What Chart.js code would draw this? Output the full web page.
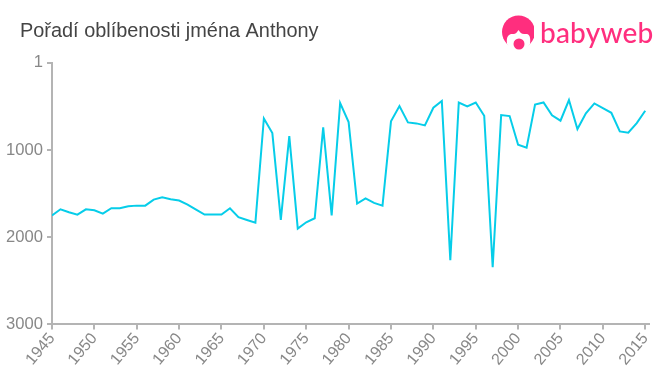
<!DOCTYPE html>
<html>
<head>
<meta charset="utf-8">
<script src="https://cdn.jsdelivr.net/npm/chart.js@4"></script>
<style>
  html, body { margin: 0; padding: 0; background: #fff; }
  #wrap { position: relative; width: 660px; height: 375px; overflow: hidden; }
  #logo { position: absolute; left: 500px; top: 14px; width: 34px; height: 36px; }
  #brand { position: absolute; left: 540px; top: 14px; font: 500 28px/36px Lato, sans-serif; color: #ff2e7e; letter-spacing: 0.2px; }
</style>
</head>
<body>
<div id="wrap">
  <canvas id="chart" width="660" height="375"></canvas>
  <svg id="logo" viewBox="0 0 34 36">
    <circle cx="18.5" cy="18" r="16.5" fill="#ff2e7e"/>
    <path d="M7 30 C6 22 9 19.5 13 20 C15 20.5 17 18.5 18.5 16 C20 18.5 22 20.5 25 20 C29 19.5 31 22 30 30 L24 37 L12 37 Z" fill="#fff"/>
    <circle cx="19" cy="30" r="5.5" fill="#ff2e7e"/>
  </svg>
  <div id="brand">babyweb</div>
</div>
<script>
const years = [1945,1946,1947,1948,1949,1950,1951,1952,1953,1954,1955,1956,1957,1958,1959,1960,1961,1962,1963,1964,1965,1966,1967,1968,1969,1970,1971,1972,1973,1974,1975,1976,1977,1978,1979,1980,1981,1982,1983,1984,1985,1986,1987,1988,1989,1990,1991,1992,1993,1994,1995,1996,1997,1998,1999,2000,2001,2002,2003,2004,2005,2006,2007,2008,2009,2010,2011,2012,2013,2014,2015];
const ranks = [1752,1680,1714,1741,1680,1691,1729,1668,1668,1645,1638,1638,1569,1543,1565,1580,1626,1684,1741,1741,1741,1668,1771,1802,1833,638,806,1802,840,1901,1829,1783,741,1749,462,680,1615,1554,1607,1638,672,496,684,695,718,515,439,2265,455,500,455,607,2345,600,611,939,974,478,455,603,664,427,760,580,466,519,573,787,802,691,550];
const yTicks = [1, 1000, 2000, 3000];

// the title starts 20px in, the y labels need the full width
const titleInset = {
  id: "titleInset",
  afterLayout(chart) {
    chart.titleBlock.left = 20;
  },
};

new Chart(document.getElementById("chart"), {
  type: "line",
  data: {
    datasets: [{
      data: years.map((y, i) => ({ x: y, y: ranks[i] })),
      borderColor: "#06cde9",
      borderWidth: 2,
      pointRadius: 0,
      tension: 0,
    }],
  },
  plugins: [titleInset],
  options: {
    responsive: false,
    animation: false,
    layout: { padding: { left: 0, right: 10, top: 0, bottom: 6 } },
    plugins: {
      legend: { display: false },
      tooltip: { enabled: false },
      title: {
        display: true,
        text: "Pořadí oblíbenosti jména Anthony",
        align: "start",
        color: "#444",
        font: { family: "Liberation Sans", size: 19.9, weight: "normal" },
        padding: { top: 20, bottom: 19 },
      },
    },
    scales: {
      x: {
        type: "linear",
        min: 1945,
        max: 2015.47,
        border: { color: "#b4b4b4", width: 2 },
        grid: { drawOnChartArea: false, color: "#b4b4b4", tickLength: 5, lineWidth: 2 },
        ticks: {
          stepSize: 5,
          includeBounds: false,
          color: "#888",
          font: { family: "Liberation Sans", size: 16 },
          maxRotation: 50,
          minRotation: 50,
          padding: 0,
          callback: (v) => String(v),
        },
      },
      y: {
        reverse: true,
        min: 1,
        max: 3000,
        afterBuildTicks: (axis) => { axis.ticks = yTicks.map((v) => ({ value: v })); },
        afterFit: (axis) => { axis.width = 52; },
        border: { color: "#b4b4b4", width: 2 },
        grid: { drawOnChartArea: false, color: "#b4b4b4", tickLength: 5, lineWidth: 2 },
        ticks: {
          color: "#888",
          font: { family: "Liberation Sans", size: 16.6 },
          padding: 4,
          callback: (v) => String(v),
        },
      },
    },
  },
});
</script>
</body>
</html>
